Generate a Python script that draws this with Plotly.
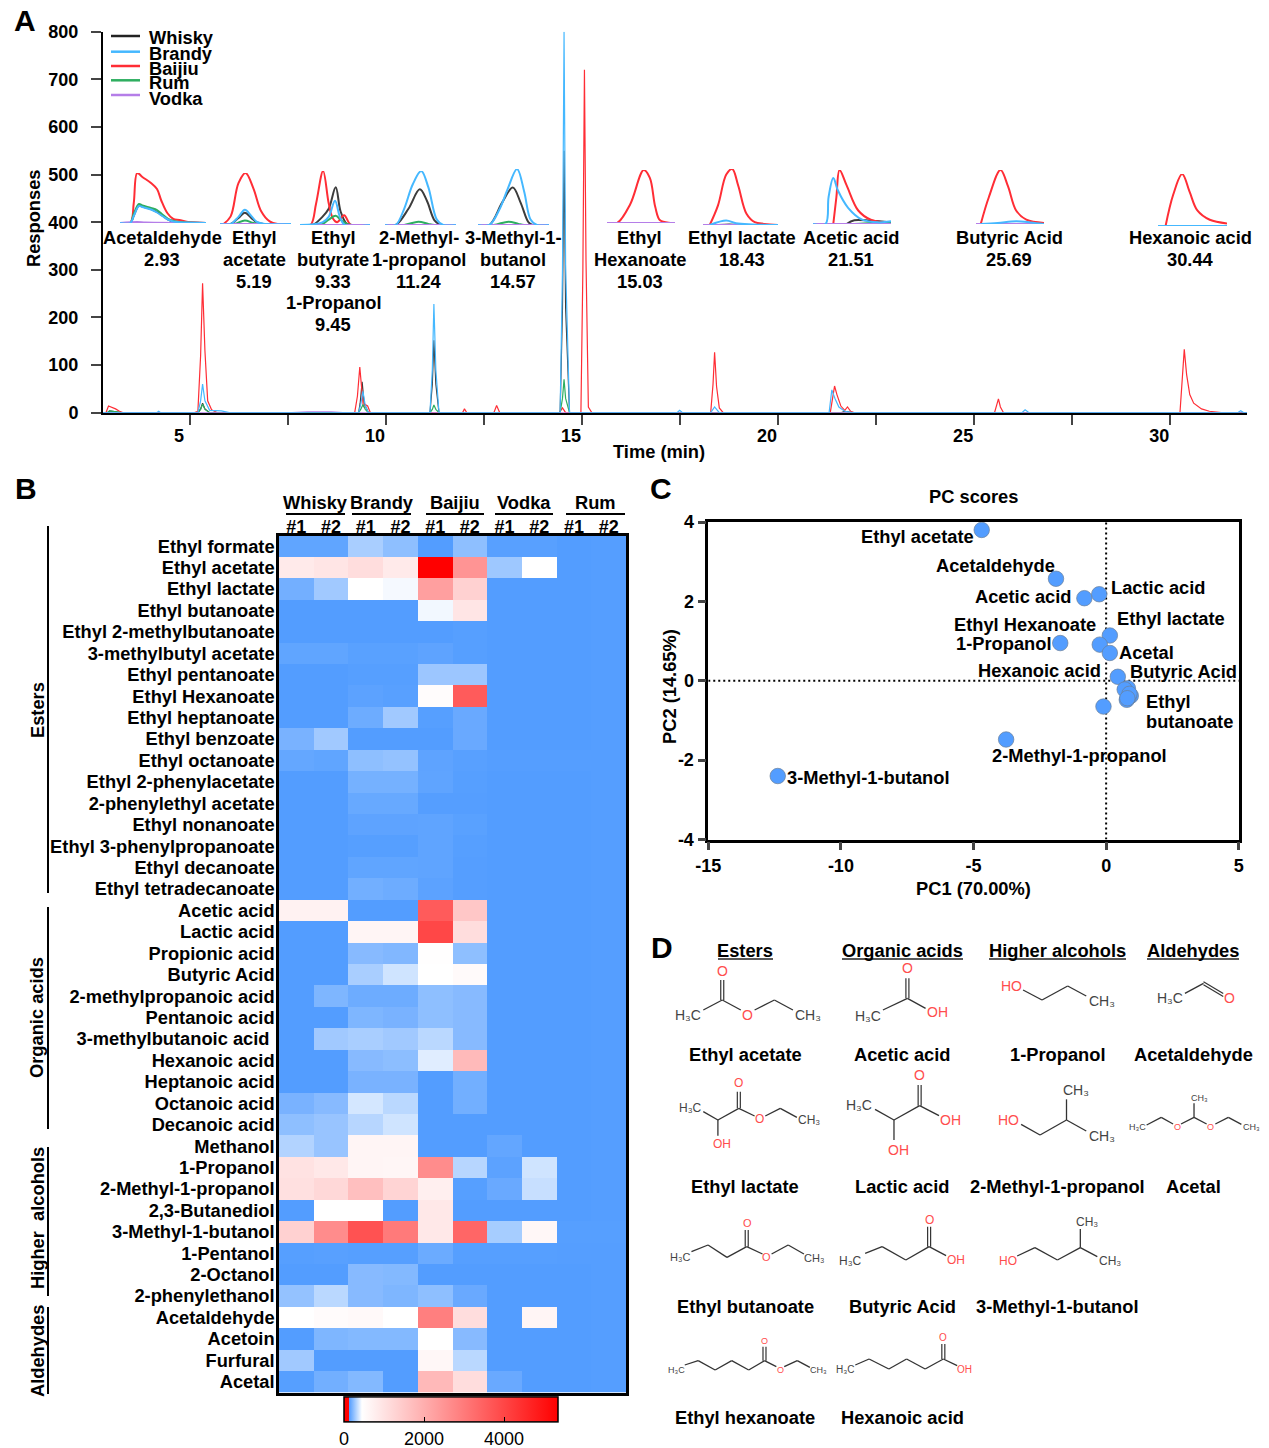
import plotly.graph_objects as go

W, H = 1269, 1448
FONT = "Liberation Sans"
BOLD = 18.3

# ---------- Panel A: chromatogram (time, response) ----------
baijiu_trace = [(2.78,0),(2.86,1),(2.92,14),(3.0,12),(3.1,8),(3.2,3),(3.3,0),(5.1,0),(5.2,3),(5.27,120),(5.32,272),(5.38,130),(5.45,25),(5.55,6),(5.7,0),
    (9.2,0),(9.27,35),(9.33,96),(9.39,25),(9.42,12),(9.47,17),(9.53,14),(9.6,0),(11.95,0),(12.0,8),(12.06,0),(12.75,0),(12.82,15),(12.9,0),
    (14.42,0),(14.5,10),(14.58,0),(14.97,0),(15.02,300),(15.06,720),(15.1,320),(15.16,12),(15.25,0),(18.28,0),(18.34,60),(18.38,127),(18.43,55),(18.5,10),(18.6,0),
    (21.33,0),(21.39,30),(21.44,56),(21.5,38),(21.6,14),(21.7,5),(21.77,12),(21.85,3),(21.95,0),(25.52,0),(25.58,15),(25.62,29),(25.67,12),(25.75,0),
    (30.25,0),(30.31,70),(30.36,133),(30.42,80),(30.5,38),(30.6,20),(30.8,8),(31.0,3),(31.3,0),(31.96,0)]
brandy_trace = [(2.78,0),(4.15,0),(4.2,3),(4.25,0),(5.2,0),(5.27,25),(5.32,60),(5.38,25),(5.5,5),(5.8,4),(6.0,0),(9.3,0),(9.36,20),(9.41,45),(9.47,15),(9.55,0),
    (11.12,0),(11.18,90),(11.22,228),(11.27,90),(11.35,0),(14.44,0),(14.5,300),(14.54,800),(14.58,310),(14.68,0),(17.42,0),(17.49,5),(17.56,0),(18.28,0),(18.38,12),(18.5,0),
    (21.3,0),(21.34,30),(21.37,48),(21.45,30),(21.55,12),(21.7,3),(21.9,0),(26.22,0),(26.3,6),(26.4,0),(31.72,0),(31.8,4),(31.88,0),(31.96,0)]
whisky_trace = [(2.78,0),(2.9,0),(2.95,4),(3.1,2),(3.25,0),(5.2,0),(5.27,8),(5.32,20),(5.38,8),(5.5,0),(9.3,0),(9.34,20),(9.39,65),(9.44,20),(9.55,0),
    (11.12,0),(11.18,60),(11.22,152),(11.27,60),(11.35,0),(14.44,0),(14.5,220),(14.54,550),(14.58,220),(14.68,0),(21.6,0),(21.7,3),(21.9,0),(31.96,0)]
rum_trace = [(2.78,0),(2.88,0),(2.95,4),(3.1,2),(3.25,0),(5.2,0),(5.27,7),(5.32,18),(5.38,7),(5.5,0),(9.3,0),(9.36,8),(9.41,17),(9.47,7),(9.55,0),
    (11.12,0),(11.18,7),(11.22,16),(11.27,7),(11.35,0),(14.44,0),(14.5,30),(14.54,70),(14.58,30),(14.68,0),(31.96,0)]
vodka_trace = [(2.78,0),(7.6,0),(8.0,2),(8.6,2),(8.9,0),(31.96,0)]

# ---------- Panel A: insets, x as % of inset width, y as % of the tallest peak ----------
insets = {
 "Acetaldehyde": dict(
  box=(120,206,223,173),
  Baijiu=[(0,0),(12,0),(16,40),(20,100),(26,92),(36,80),(43,68),(48,45),(55,20),(62,8),(69,6),(79,2),(100,0)],
  Whisky=[(0,0),(12,0),(16,15),(22,35),(26,33),(36,28),(43,22),(50,14),(57,6),(65,2),(79,1),(100,0)],
  Brandy=[(0,0),(12,0),(16,14),(22,34),(26,32),(36,27),(43,21),(50,13),(57,6),(65,2),(79,1),(100,0)],
  Rum=[(0,0),(12,0),(16,18),(22,38),(26,35),(36,30),(43,26),(50,16),(57,7),(65,3),(79,1),(100,0)],
  Vodka=[(0,0),(20,2),(30,1),(100,0)]),
 "Ethyl acetate": dict(
  box=(220,291,224,173),
  Baijiu=[(5,0),(15,15),(26,80),(36,100),(47,70),(58,25),(70,5),(81,0),(100,0)],
  Whisky=[(0,0),(15,0),(26,12),(35,22),(44,12),(52,3),(61,0),(100,0)],
  Brandy=[(0,0),(15,0),(26,14),(35,28),(44,16),(52,4),(64,0),(100,0)],
  Rum=[(0,0),(20,0),(35,7),(47,2),(58,0),(100,0)],
  Vodka=[(0,0),(100,0)]),
 "Ethyl butyrate": dict(
  box=(300,370,225,171),
  Baijiu=[(0,0),(15,0),(23,40),(33,100),(41,40),(47,12),(53,5),(63,18),(73,0),(100,0)],
  Whisky=[(0,0),(18,0),(32,15),(41,30),(51,70),(58,25),(67,2),(75,0),(100,0)],
  Brandy=[(0,0),(32,5),(41,15),(50,45),(57,15),(64,0),(100,0)],
  Rum=[(0,0),(29,0),(41,10),(51,17),(58,10),(67,2),(76,0),(100,0)],
  Vodka=[(0,0),(100,0)]),
 "2-Methyl-1-propanol": dict(
  box=(385,456,225,171),
  Baijiu=[(0,0),(100,0)],
  Whisky=[(0,0),(15,0),(33,30),(49,66),(59,45),(70,8),(79,0),(100,0)],
  Brandy=[(0,0),(15,0),(27,30),(39,75),(51,100),(61,70),(73,10),(82,0),(100,0)],
  Rum=[(0,0),(27,0),(47,6),(61,2),(70,0),(100,0)],
  Vodka=[(0,0),(100,0)]),
 "3-Methyl-1-butanol": dict(
  box=(478,549,225,169),
  Baijiu=[(0,0),(100,0)],
  Whisky=[(0,0),(16,0),(34,40),(49,67),(60,40),(71,5),(77,0),(100,0)],
  Brandy=[(0,0),(16,0),(31,30),(42,65),(55,100),(65,60),(74,10),(83,0),(100,0)],
  Rum=[(0,0),(22,0),(43,6),(57,2),(65,0),(100,0)],
  Vodka=[(0,0),(100,0)]),
 "Ethyl Hexanoate": dict(
  box=(607,675,223,170),
  Baijiu=[(0,0),(15,0),(34,35),(54,100),(63,85),(71,30),(78,5),(93,0),(100,0)],
  Vodka=[(0,0),(100,0)]),
 "Ethyl lactate": dict(
  box=(703,778,225,169),
  Whisky=[(20,0),(35,1),(50,0)],
  Brandy=[(9,0),(31,8),(44,3),(66,1),(100,0)],
  Baijiu=[(9,0),(20,35),(31,90),(39,100),(47,70),(58,20),(69,5),(82,2),(100,0)],
  Vodka=[(0,0),(100,0)]),
 "Acetic acid": dict(
  box=(813,891,224,170),
  Whisky=[(43,0),(53,7),(74,6),(100,3)],
  Rum=[(53,0),(74,2),(100,2)],
  Brandy=[(0,0),(16,0),(20,50),(26,85),(32,62),(45,30),(63,8),(84,3),(100,5)],
  Baijiu=[(26,0),(30,50),(34,100),(43,72),(58,25),(74,8),(100,2)],
  Vodka=[(0,0),(100,0)]),
 "Butyric Acid": dict(
  box=(976,1044,224,170),
  Brandy=[(7,0),(32,2),(59,5),(80,3),(100,0)],
  Baijiu=[(7,0),(19,50),(36,100),(47,70),(59,25),(74,8),(100,2)],
  Vodka=[(0,0),(100,0)]),
 "Hexanoic acid": dict(
  box=(1158,1227,226,174),
  Brandy=[(0,0),(100,0)],
  Baijiu=[(11,0),(22,60),(35,100),(46,65),(57,30),(75,12),(100,5)],
  Vodka=[(0,0),(100,0)]),
}

series_colors = {"Whisky":"#3c3c3c","Brandy":"#45B8FF","Baijiu":"#FF2D35","Rum":"#2EAE60","Vodka":"#B57EE8"}
inset_labels = [(162,["Acetaldehyde","2.93"]),(254,["Ethyl","acetate","5.19"]),(333,["Ethyl","butyrate","9.33"]),
    (419,["2-Methyl-","1-propanol","11.24"]),(513,["3-Methyl-1-","butanol","14.57"]),(640,["Ethyl","Hexanoate","15.03"]),
    (742,["Ethyl lactate","18.43"]),(851,["Acetic acid","21.51"]),(1009,["Butyric Acid","25.69"]),(1190,["Hexanoic acid","30.44"])]

# ---------- Panel B: heat map ----------
compounds = ["Ethyl formate","Ethyl acetate","Ethyl lactate","Ethyl butanoate","Ethyl 2-methylbutanoate","3-methylbutyl acetate",
 "Ethyl pentanoate","Ethyl Hexanoate","Ethyl heptanoate","Ethyl benzoate","Ethyl octanoate","Ethyl 2-phenylacetate","2-phenylethyl acetate",
 "Ethyl nonanoate","Ethyl 3-phenylpropanoate","Ethyl decanoate","Ethyl tetradecanoate","Acetic acid","Lactic acid","Propionic acid","Butyric Acid",
 "2-methylpropanoic acid","Pentanoic acid","3-methylbutanoic acid\u00a0","Hexanoic acid","Heptanoic acid","Octanoic acid","Decanoic acid","Methanol",
 "1-Propanol","2-Methyl-1-propanol","2,3-Butanediol","3-Methyl-1-butanol","1-Pentanol","2-Octanol","2-phenylethanol","Acetaldehyde","Acetoin","Furfural","Acetal"]
sample_ticks = ["#1","#2"]*5
# columns: Whisky 1,2; Brandy 1,2; Baijiu 1,2; Vodka 1,2; Rum 1,2
z_values = [
 [155,155,290,240,130,240,140,140,130,134],
 [850,950,1100,850,5350,2500,270,450,130,134],
 [190,275,450,430,2300,1330,130,130,130,134],
 [130,130,130,130,425,950,130,130,130,134],
 [130,130,130,130,130,135,130,130,130,134],
 [155,155,142,142,150,135,130,130,130,134],
 [130,130,135,135,265,265,130,130,130,134],
 [130,130,146,140,500,3600,130,130,130,134],
 [130,130,178,275,135,170,130,130,130,134],
 [200,275,130,130,130,170,130,130,130,134],
 [162,155,240,250,150,140,133,133,133,134],
 [130,130,194,194,152,135,130,130,130,134],
 [130,130,168,168,133,133,130,130,130,134],
 [130,130,150,150,152,142,130,130,130,134],
 [130,130,135,135,152,135,130,130,130,134],
 [130,130,155,155,152,133,130,130,130,134],
 [130,130,188,178,146,133,130,130,130,134],
 [700,700,130,130,3600,1530,130,130,130,134],
 [130,130,650,650,3980,1100,130,130,130,134],
 [130,130,226,216,460,240,130,130,130,134],
 [130,130,290,360,450,550,130,130,130,134],
 [130,210,178,178,240,226,130,130,130,134],
 [130,130,210,200,240,226,130,130,130,134],
 [130,275,290,275,322,226,130,130,130,134],
 [130,130,226,236,392,1770,130,130,130,134],
 [130,130,200,200,130,188,130,130,130,134],
 [200,226,370,322,130,188,130,130,130,134],
 [240,258,315,360,130,130,130,130,130,134],
 [306,258,650,650,130,130,160,130,130,134],
 [1000,900,650,620,2650,315,146,360,130,134],
 [1040,1190,1680,1280,750,135,170,345,130,134],
 [130,450,450,130,900,130,130,130,130,134],
 [1330,2650,3780,3000,900,3390,285,600,135,136],
 [136,140,136,136,175,136,136,136,134,134],
 [130,130,226,220,130,130,130,130,130,134],
 [250,322,226,210,240,170,130,130,130,134],
 [450,520,560,450,2900,1100,130,650,130,134],
 [130,210,220,220,450,226,130,130,130,134],
 [275,130,130,130,600,322,130,130,130,134],
 [135,188,220,130,1800,1100,170,130,130,134],
]
group_labels = [("Whisky",315,286,345),("Brandy",382,352,411),("Baijiu",455,426,484),("Vodka",524,495,553),("Rum",595,566,625)]
class_brackets = [("Esters",526,893,710),("Organic acids",907,1129,1018),("Higher  alcohols",1147,1296,1218),("Aldehydes",1307,1394,1351)]
color_ticks = [0,2000,4000]

# ---------- Panel C: PC scores ----------
pc1 = [-4.69,-1.89,-0.82,-0.26,0.14,-1.73,-0.24,0.14,0.44,0.75,0.82,0.93,0.78,0.85,0.70,0.88,0.80,-0.10,-3.77,-12.38]
pc2 = [3.80,2.57,2.08,2.18,1.14,0.95,0.91,0.70,0.10,-0.22,-0.19,-0.38,-0.48,-0.40,-0.22,-0.33,-0.44,-0.65,-1.48,-2.40]
pc_labels = [("Ethyl acetate",975,536,"right"),("Acetaldehyde",1056,565,"right"),("Acetic acid",1073,597,"right"),("Lactic acid",1110,587,"left"),
 ("Ethyl lactate",1116,618,"left"),("Ethyl Hexanoate",1097,625,"right"),("1-Propanol",1052,644,"right"),("Acetal",1118,652,"left"),
 ("Hexanoic acid",1102,670,"right"),("Butyric Acid",1129,671,"left"),("Ethyl",1145,701,"left"),("butanoate",1145,722,"left"),
 ("2-Methyl-1-propanol",991,755,"left"),("3-Methyl-1-butanol",786,777,"left")]

# ---------- Panel D: structures ----------
d_headers = [("Esters",745,718,773),("Organic acids",902,842,963),("Higher alcohols",1057,989,1126),("Aldehydes",1193,1147,1239)]
d_names = [("Ethyl acetate",745,1054),("Acetic acid",902,1054),("1-Propanol",1057,1054),("Acetaldehyde",1193,1054),
 ("Ethyl lactate",745,1186),("Lactic acid",902,1186),("2-Methyl-1-propanol",1057,1186),("Acetal",1193,1186),
 ("Ethyl butanoate",745,1306),("Butyric Acid",902,1306),("3-Methyl-1-butanol",1057,1306),
 ("Ethyl hexanoate",745,1417),("Hexanoic acid",902,1417)]
# each: font size, single bonds, double bonds, atom labels (in 2.533x / 3x crop units from the panel corner)
HC, CH, OO, OH, HO = "H\u2083C", "CH\u2083", "O", "OH", "HO"
structures = [
 (14,[(135,240,183,210),(183,210,230,240),(265,240,315,210),(315,210,362,240)],[(183,210,183,150)],
  [(HC,97,255),(OO,183,122),(OO,248,254),(CH,400,256)]),
 (14,[(590,240,652,205),(652,205,698,235)],[(652,205,652,145)],[(OO,652,115),(HC,553,257),(OH,729,247)]),
 (14,[(945,180,993,210),(993,210,1058,168),(1058,168,1105,198)],[],[(HO,915,167),(CH,1145,213)]),
 (14,[(1355,190,1402,160)],[(1402,160,1452,195)],[(OO,1469,204),(HC,1316,205)]),
 (12,[(135,545,172,570),(172,570,225,535),(225,535,265,558),(292,558,330,535),(330,535,372,562),(172,570,172,617)],[(225,535,225,485)],
  [(OO,225,460),(HC,103,533),(OO,278,568),(CH,402,570),(OH,182,642)]),
 (14,[(570,538,618,570),(618,570,683,527),(683,527,732,557),(618,570,618,630)],[(683,527,683,465)],
  [(OO,683,434),(HC,530,525),(OH,762,571),(OH,629,661)]),
 (14,[(940,583,988,615),(988,615,1055,570),(1055,570,1055,508),(1055,570,1105,603)],[],[(HO,908,570),(CH,1078,480),(CH,1146,618)]),
 (9,[(1258,585,1295,562),(1295,562,1325,582),(1345,582,1378,562),(1378,562,1410,582),(1432,582,1465,562),(1465,562,1498,583),(1378,562,1378,520)],[],
  [(HC,1234,592),(OO,1335,591),(OO,1421,591),(CH,1392,504),(CH,1523,592)]),
 (11,[(105,965,147,945),(147,945,195,982),(195,982,245,950),(245,950,285,972),(308,972,350,945),(350,945,390,972)],[(245,950,245,900)],
  [(OO,246,878),(HC,76,982),(OO,296,982),(CH,415,983)]),
 (12,[(545,970,588,950),(588,950,648,990),(648,990,707,950),(707,950,750,977)],[(707,950,707,890)],[(OO,707,870),(HC,508,992),(OH,776,991)]),
 (12,[(930,978,975,953),(975,953,1032,990),(1032,990,1090,953),(1090,953,1090,897),(1090,953,1133,980)],[],
  [(HO,907,992),(CH,1108,876),(CH,1165,994)]),
 (9,[(88,1305,122,1292),(122,1292,165,1320),(165,1320,207,1292),(207,1292,250,1320),(250,1320,290,1292),(290,1292,320,1310),(340,1310,373,1292),(373,1292,405,1312)],
  [(290,1292,290,1250)],[(OO,289,1234),(HC,66,1320),(OO,331,1320),(CH,428,1320)]),
 (10,[(520,1305,555,1287),(555,1287,605,1317),(605,1317,650,1287),(650,1287,697,1317),(697,1317,743,1287),(743,1287,778,1307)],[(743,1287,743,1242)],
  [(OO,743,1223),(HC,494,1319),(OH,797,1317)]),
]

# ---------- helpers ----------
annotations, shapes = [], []
def dx(x): return x/W
def dy(y): return 1-y/H
def text(x,y,s,size=BOLD,anchor="center",color="#000",weight=700,angle=0):
    annotations.append(dict(x=dx(x),y=dy(y),xref="paper",yref="paper",text=s,showarrow=False,xanchor=anchor,yanchor="middle",
        textangle=angle,borderpad=0,font=dict(family=FONT,size=size,color=color,weight=weight)))
def seg(x0,y0,x1,y1,color="#000",width=2):
    shapes.append(dict(type="line",xref="paper",yref="paper",x0=dx(x0),y0=dy(y0),x1=dx(x1),y1=dy(y1),line=dict(color=color,width=width)))
def unzip(pairs):
    return [p[0] for p in pairs],[p[1] for p in pairs]
def tickfont(size=18):
    return dict(family=FONT,size=size,color="#000",weight=700)

fig = go.Figure()

# Panel A main
for name,data in [("Whisky",whisky_trace),("Baijiu",baijiu_trace),("Rum",rum_trace),("Vodka",vodka_trace),("Brandy",brandy_trace)]:
    t,y = unzip(data)
    fig.add_trace(go.Scatter(x=t,y=y,mode="lines",name=name,xaxis="x",yaxis="y",line=dict(color=series_colors[name],width=1.2)))
axes = dict(
 xaxis=dict(domain=[dx(103),dx(1247)],range=[2.78,31.96],anchor="y",tickmode="array",tickvals=[5,7.5,10,12.5,15,17.5,20,22.5,25,27.5,30],
   ticktext=["5","","10","","15","","20","","25","","30"],ticklabelshift=-11,ticklabelstandoff=-4,ticks="outside",ticklen=10,tickwidth=2,linewidth=2,linecolor="#000",
   showline=True,showgrid=False,zeroline=False,tickfont=tickfont()),
 yaxis=dict(domain=[dy(412.7),dy(31.7)],range=[0,800],anchor="x",tickvals=list(range(0,801,100)),ticks="outside",ticklen=10,tickwidth=2,linewidth=2,ticklabelstandoff=9,
   linecolor="#000",showline=True,showgrid=False,zeroline=False,tickfont=tickfont()),
)
# Panel A insets
n = 4
for name,spec in insets.items():
    x0,x1,yb,yt = spec["box"]
    for s in ["Whisky","Baijiu","Rum","Vodka","Brandy"]:
        if s in spec:
            xs,ys = unzip(spec[s])
            fig.add_trace(go.Scatter(x=xs,y=ys,mode="lines",xaxis=f"x{n}",yaxis=f"y{n}",cliponaxis=False,
                line=dict(color=series_colors[s],width=2,shape="spline",smoothing=1.0)))
    axes[f"xaxis{n}"]=dict(domain=[dx(x0),dx(x1)],range=[0,100],visible=False,anchor=f"y{n}")
    axes[f"yaxis{n}"]=dict(domain=[dy(yb),dy(yt)],range=[0,100],visible=False,anchor=f"x{n}")
    n += 1

for cx,lines in inset_labels:
    for i,l in enumerate(lines):
        text(cx,238+i*21.7,l)
text(333,303,"1-Propanol"); text(333,325,"9.45")
text(33,218,"Responses",angle=-90)
text(659,451,"Time (min)")
for (nm,ly,ty) in [("Whisky",36,37),("Brandy",51.7,53),("Baijiu",66,68),("Rum",80.3,83),("Vodka",95,98)]:
    seg(111,ly,140,ly,series_colors[nm] if nm!="Whisky" else "#222",2.5)
    text(148,ty,nm,anchor="left")

# Panel B heat map
fig.add_trace(go.Heatmap(z=z_values,y=compounds,x=list(range(10)),xaxis="x2",yaxis="y2",zmin=0,zmax=5350,xgap=0,ygap=0,
    colorscale=[[0,"#FF0000"],[0.0234,"#FF0000"],[0.0234,"#539DFF"],[0.0243,"#539DFF"],[0.084,"#FFFFFF"],[1,"#FF0000"]],
    colorbar=dict(orientation="h",x=dx(344),xanchor="left",y=-0.0048,yanchor="bottom",lenmode="pixels",len=214,thicknessmode="pixels",thickness=25,
        xpad=0,ypad=0,outlinewidth=1.5,outlinecolor="#000",tickmode="array",tickvals=color_ticks,ticks="inside",ticklen=5,tickcolor="#000",
        tickfont=dict(family=FONT,size=18,color="#000",weight=400))))
axes["xaxis2"]=dict(domain=[dx(279),dx(626)],range=[-0.5,9.5],anchor="y2",side="top",tickmode="array",tickvals=list(range(10)),ticktext=sample_ticks,
   ticks="",showgrid=False,zeroline=False,showline=True,mirror=True,linewidth=2.5,linecolor="#000",tickfont=tickfont(18),ticklabelstandoff=-7)
axes["yaxis2"]=dict(domain=[dy(1392.5),dy(535.5)],autorange="reversed",anchor="x2",type="category",tickmode="linear",dtick=1,ticks="",showgrid=False,zeroline=False,
   showline=True,mirror=True,linewidth=2.5,linecolor="#000",tickfont=tickfont(BOLD),ticklabelstandoff=-2)
for nm,c,a,b in group_labels:
    text(c,503,nm); seg(a,514,b,514,"#000",2)
for nm,a,b,c in class_brackets:
    seg(48,a,48,b,"#000",2); text(37,c,nm,angle=-90)

# Panel C
fig.add_trace(go.Scatter(x=pc1,y=pc2,mode="markers",xaxis="x3",yaxis="y3",cliponaxis=False,marker=dict(size=15.5,color="#539DFF",line=dict(color="#6a7f9a",width=0.7))))
axes["xaxis3"]=dict(domain=[dx(708.25),dx(1238.75)],range=[-15,5],anchor="y3",tickvals=[-15,-10,-5,0,5],ticktext=["-15","-10","-5","0","5"],ticks="outside",ticklen=8,tickwidth=2.5,
   showline=True,mirror=True,linewidth=2.5,linecolor="#000",showgrid=False,zeroline=False,tickfont=tickfont())
axes["yaxis3"]=dict(domain=[dy(839.5),dy(522)],range=[-4,4],anchor="x3",tickvals=[-4,-2,0,2,4],ticktext=["-4","-2","0","2","4"],ticks="outside",ticklen=8,tickwidth=2.5,
   showline=True,mirror=True,linewidth=2.5,linecolor="#000",showgrid=False,zeroline=False,tickfont=tickfont())
shapes.append(dict(type="line",xref="x3",yref="y3",x0=-15,x1=5,y0=0,y1=0,layer="below",line=dict(color="#000",width=2,dash="2px,3px")))
shapes.append(dict(type="line",xref="x3",yref="y3",x0=0,x1=0,y0=-4,y1=4,layer="below",line=dict(color="#000",width=2,dash="2px,3px")))
for s,x,y,a in pc_labels:
    text(x,y,s,anchor=a)
text(973,497,"PC scores"); text(973,888,"PC1 (70.00%)"); text(669,687,"PC2 (14.65%)",angle=-90)

# Panel D
def zx(x): return 650+x/2.533
def zy(y): return 930+y/3
for nm,c,a,b in d_headers:
    text(c,950,nm); seg(a,959,b,959,"#222",1.5)
for nm,c,y in d_names:
    text(c,y,nm)
for size,singles,doubles,atoms in structures:
    for x0,y0,x1,y1 in singles:
        seg(zx(x0),zy(y0),zx(x1),zy(y1),"#333",1.3)
    for x0,y0,x1,y1 in doubles:
        off = 1.5
        if x0==x1:
            seg(zx(x0)-off,zy(y0),zx(x1)-off,zy(y1),"#333",1.2); seg(zx(x0)+off,zy(y0),zx(x1)+off,zy(y1),"#333",1.2)
        else:
            seg(zx(x0),zy(y0)-off,zx(x1),zy(y1)-off,"#333",1.2); seg(zx(x0),zy(y0)+off,zx(x1),zy(y1)+off,"#333",1.2)
    for s,x,y in atoms:
        col = "#FF4D4D" if s in (OO,OH,HO) else "#444"
        text(zx(x),zy(y),s,size=size,color=col,weight=400)

for s,x,y in [("A",25,21),("B",26,488),("C",661,488),("D",662,947)]:
    text(x,y,s,size=30)

fig.update_layout(width=W,height=H,margin=dict(l=0,r=0,t=0,b=0,autoexpand=False),paper_bgcolor="white",plot_bgcolor="rgba(0,0,0,0)",showlegend=False,
    font=dict(family=FONT,color="#000"),annotations=annotations,shapes=shapes,**axes)
fig.write_html("out.html",config={"displayModeBar":False},post_script="document.body.style.margin='0';document.body.style.overflow='hidden';")
